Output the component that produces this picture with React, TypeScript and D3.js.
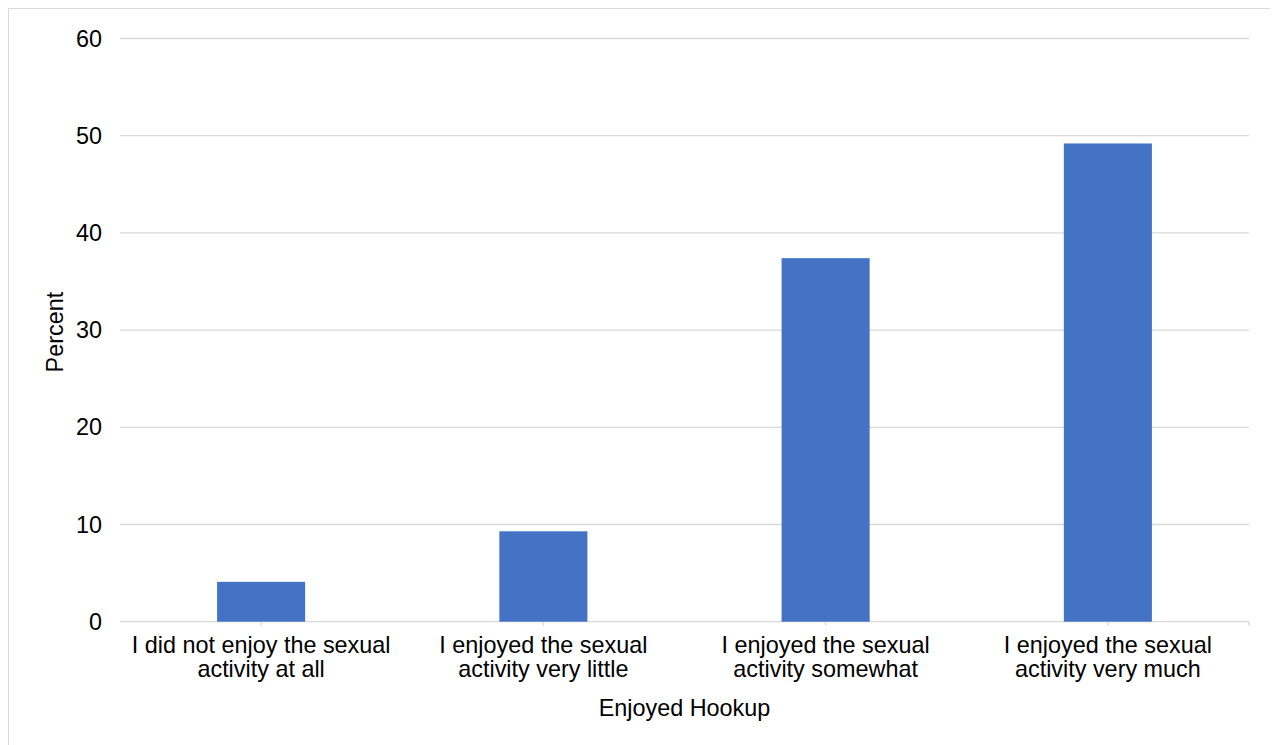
import React, { useEffect } from "react";
import * as d3 from "d3";

// Share of respondents by how much they enjoyed the hookup
const categories: string[][] = [
  ["I did not enjoy the sexual", "activity at all"],
  ["I enjoyed the sexual", "activity very little"],
  ["I enjoyed the sexual", "activity somewhat"],
  ["I enjoyed the sexual", "activity very much"],
];
const percents: number[] = [4.1, 9.3, 37.4, 49.2];
const yTicks: number[] = [0, 10, 20, 30, 40, 50, 60];
const xTitle = "Enjoyed Hookup";
const yTitle = "Percent";

const W = 1270;
const H = 737;
const margin = { left: 112, right: 29, top: 30.5, bottom: 123.3 };
const FONT = "'Liberation Sans', Arial, Helvetica, sans-serif";
const FS = 23.4;

export default function App() {
  useEffect(() => {
    document.documentElement.style.overflow = "hidden";
  }, []);

  const keys = categories.map((_, i) => String(i));
  const x = d3
    .scaleBand<string>()
    .domain(keys)
    .range([margin.left, W - margin.right])
    .paddingInner(0.688)
    .paddingOuter(0.344);
  const y = d3
    .scaleLinear()
    .domain([0, 60])
    .range([H - margin.bottom, margin.top]);

  const bw = x.bandwidth();

  return (
    <svg width={W} height={H} style={{ display: "block" }} fontFamily={FONT}>
      <rect x={0.5} y={0.5} width={W - 1} height={H + 10} fill="#fff" stroke="#d9d9d9" strokeWidth={1} />
      {yTicks.map((t) => (
        <g key={t}>
          <line
            x1={margin.left}
            x2={W - margin.right}
            y1={y(t)}
            y2={y(t)}
            stroke="#d9d9d9"
            strokeWidth={1.3}
          />
          <text x={94} y={y(t)} dy="0.35em" textAnchor="end" fontSize={FS} fill="#000">
            {t}
          </text>
        </g>
      ))}
      {keys.map((k) => {
        const cx = (x(k) as number) + bw / 2;
        return (
          <line key={"t" + k} x1={cx} x2={cx} y1={y(0)} y2={y(0) + 4} stroke="#d9d9d9" strokeWidth={1.3} />
        );
      })}
      <line x1={W - margin.right} x2={W - margin.right} y1={y(0)} y2={y(0) + 4} stroke="#d9d9d9" strokeWidth={1.3} />
      {percents.map((v, i) => (
        <rect
          key={i}
          x={x(String(i)) as number}
          y={y(v)}
          width={bw}
          height={y(0) - y(v)}
          fill="#4472C4"
        />
      ))}
      {categories.map((lines, i) => {
        const cx = (x(String(i)) as number) + bw / 2;
        return (
          <text key={"c" + i} x={cx} textAnchor="middle" fontSize={FS} fill="#000">
            {lines.map((ln, j) => (
              <tspan key={j} x={cx} y={645.3 + j * 23.4}>
                {ln}
              </tspan>
            ))}
          </text>
        );
      })}
      <text x={(margin.left + W - margin.right) / 2} y={708} textAnchor="middle" fontSize={FS} fill="#000">
        {xTitle}
      </text>
      <text
        transform={`translate(55, ${(y(0) + y(60)) / 2 + 2}) rotate(-90)`}
        textAnchor="middle"
        fontSize={FS}
        fill="#000"
      >
        {yTitle}
      </text>
    </svg>
  );
}
